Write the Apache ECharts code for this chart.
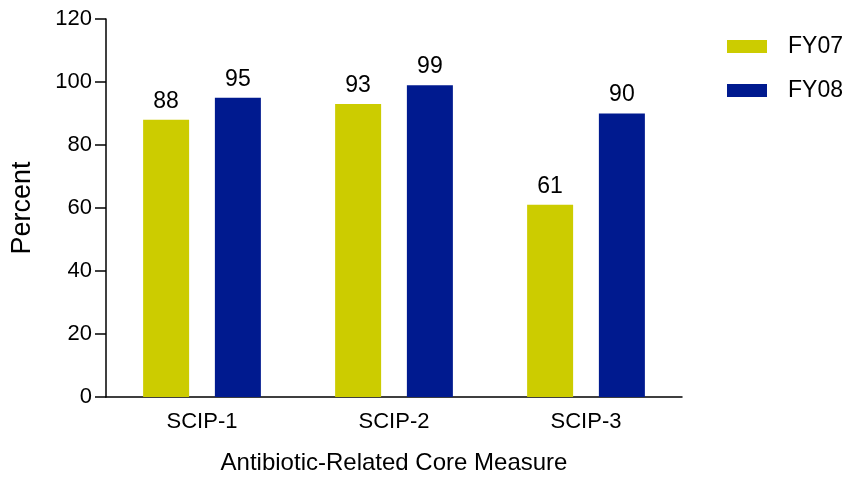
<!DOCTYPE html>
<html>
<head>
<meta charset="utf-8">
<script src="https://cdn.jsdelivr.net/npm/echarts@6/dist/echarts.min.js"></script>
<style>
  html, body { margin: 0; padding: 0; background: #fff; }
  #main { width: 847px; height: 480px; }
</style>
</head>
<body>
<div id="main"></div>
<script>
const categories = ['SCIP-1', 'SCIP-2', 'SCIP-3'];
const fy07 = [88, 93, 61];
const fy08 = [95, 99, 90];

const yellow = '#cccc00';
const blue = '#001a8f';
const font = 'Liberation Sans, Arial, sans-serif';

const chart = echarts.init(document.getElementById('main'));
chart.setOption({
  animation: false,
  textStyle: { fontFamily: font },
  grid: { left: 106, right: 165, top: 19, bottom: 80 },
  legend: {
    orient: 'vertical',
    left: 722,
    top: 30,
    icon: 'rect',
    itemWidth: 40,
    itemHeight: 13,
    itemGap: 21,
    textStyle: { fontSize: 23, color: '#000', fontFamily: font, padding: [0, 0, 0, 16] },
    data: ['FY07', 'FY08']
  },
  xAxis: {
    type: 'category',
    data: categories,
    name: 'Antibiotic-Related Core Measure',
    nameLocation: 'middle',
    nameGap: 54,
    nameTextStyle: { fontSize: 24, color: '#000' },
    axisLine: { lineStyle: { color: '#000', width: 1.5 } },
    axisTick: { alignWithLabel: true, length: 11, lineStyle: { color: '#000', width: 1.5 } },
    axisLabel: { fontSize: 22, color: '#000', margin: 14 }
  },
  yAxis: {
    type: 'value',
    min: 0,
    max: 120,
    interval: 20,
    name: 'Percent',
    nameLocation: 'middle',
    nameGap: 70,
    nameTextStyle: { fontSize: 27, color: '#000' },
    axisLine: { show: true, lineStyle: { color: '#000', width: 1.5 } },
    axisTick: { show: true, length: 11, lineStyle: { color: '#000', width: 1.5 } },
    axisLabel: { fontSize: 22, color: '#000', margin: 14 },
    splitLine: { show: false }
  },
  series: [
    {
      name: 'FY07',
      type: 'bar',
      data: fy07,
      barWidth: 46,
      barGap: '56%',
      itemStyle: { color: yellow },
      label: { show: true, position: 'top', distance: 7, fontSize: 23, color: '#000' }
    },
    {
      name: 'FY08',
      type: 'bar',
      data: fy08,
      barWidth: 46,
      itemStyle: { color: blue },
      label: { show: true, position: 'top', distance: 7, fontSize: 23, color: '#000' }
    }
  ]
});
</script>
</body>
</html>
